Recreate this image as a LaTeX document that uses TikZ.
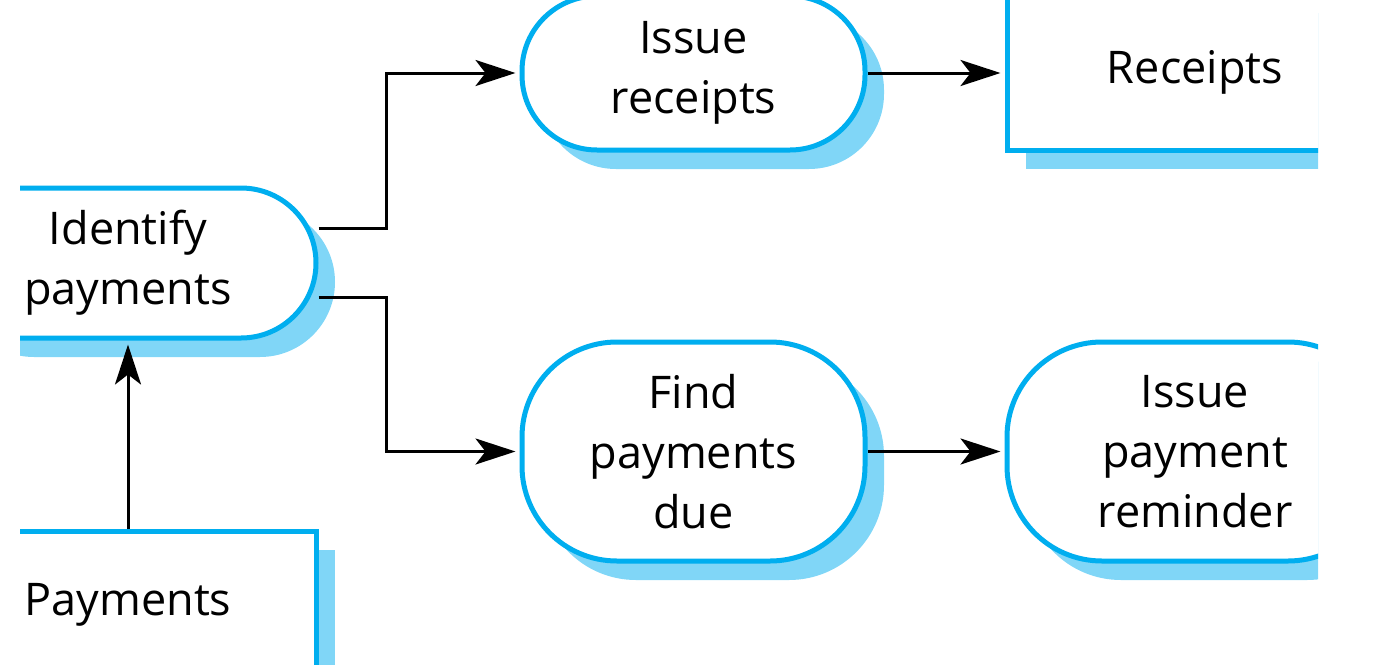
\documentclass[tikz,border=0pt]{standalone}
\usepackage{fontspec}
\setmainfont{Open Sans}
\usetikzlibrary{arrows.meta,shadows}
\definecolor{procline}{RGB}{0,174,239}
\definecolor{procshade}{RGB}{128,214,247}
\begin{document}
\begin{tikzpicture}[x=1pt,y=-1pt,
        boxbase/.style={draw=procline,line width=5pt,fill=white,align=center,
            font=\fontsize{45}{60}\selectfont,inner sep=0pt,
            drop shadow={shadow xshift=19pt,shadow yshift=-19pt,fill=procshade,opacity=1}},
        proc/.style={boxbase,rounded corners=#1},
        store/.style={boxbase},
        flow/.style={line width=3pt,-{Stealth[length=40pt,width=26pt,inset=10pt]},shorten >=4pt}]
        \useasboundingbox (0,0) rectangle (1381,664);
        \clip (20,0) rectangle (1318,664);
        \node[proc=75pt,minimum width=376pt,minimum height=150pt] (ident) at (128,263) {Identify\\payments};
        \node[proc=75pt,minimum width=343pt,minimum height=154pt] (recp) at (693.5,73) {Issue\\receipts};
        \node[proc=95pt,minimum width=343pt,minimum height=219pt] (find) at (693.5,451.5) {Find\\payments\\due};
        \node[proc=95pt,minimum width=376pt,minimum height=219pt] (remind) at (1195,451.5) {Issue\\payment\\reminder};
        \node[store,minimum width=376pt,minimum height=156pt] (rcpt) at (1195,72) {Receipts};
        \node[store,minimum width=376pt,minimum height=148pt] (pay) at (128,605) {Payments};
        \draw[flow] ([yshift=35pt]ident.east) -- ++(68,0) |- (recp.west);
        \draw[flow] ([yshift=-34pt]ident.east) -- ++(68,0) |- (find.west);
        \draw[flow] (recp.east) -- (recp.east -| rcpt.west);
        \draw[flow] (find.east) -- (remind.west);
        \draw[flow] (pay.north) -- (ident.south);
\end{tikzpicture}
\end{document}
